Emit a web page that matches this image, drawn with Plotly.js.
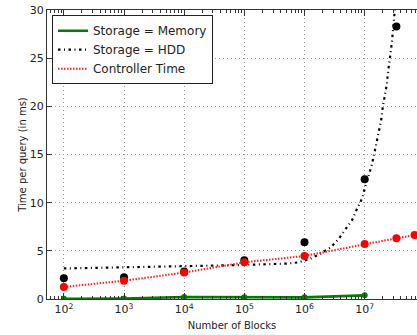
<!DOCTYPE html>
<html>
<head>
<meta charset="utf-8">
<script src="https://cdn.plot.ly/plotly-3.0.1.min.js"></script>
<style>html,body{margin:0;padding:0;background:#fff;}#chart{width:417px;height:335px;}</style>
</head>
<body>
<div id="chart"></div>
<script>
// Measured points (x = number of blocks)
const blocks = [1e2, 1e3, 1e4, 1e5, 1e6, 1e7];
const memoryTime = [0.03, 0.05, 0.2, 0.17, 0.17, 0.38];

const hddBlocks = [1e2, 1e3, 1e4, 1e5, 1e6, 1e7, 3.37e7];
const hddTime = [2.15, 2.25, 2.85, 4.02, 5.89, 12.44, 28.3];

const ctrlBlocks = [1e2, 1e3, 1e4, 1e5, 1e6, 1e7, 3.37e7, 6.76e7];
const ctrlTime = [1.25, 1.9, 2.74, 3.81, 4.47, 5.72, 6.31, 6.65];

// HDD model curve
const hddFitX = [1e2, 1e3, 1e4, 2.3e4, 5.8e4, 2.1e5, 5.2e5, 7.9e5, 1.26e6, 1.82e6, 2.75e6, 3.7e6, 4.8e6,
  6.2e6, 7.4e6, 9.1e6, 1.02e7, 1.17e7, 1.32e7, 1.45e7, 1.58e7, 1.74e7, 1.9e7, 2.0e7, 2.19e7, 2.34e7,
  2.45e7, 2.63e7, 2.75e7, 2.88e7, 3.16e7, 3.39e7];
const hddFitY = [3.17, 3.27, 3.37, 3.42, 3.5, 3.6, 3.68, 3.8, 4.19, 4.68, 5.37, 6.24, 7.17,
  8.21, 9.32, 10.47, 11.64, 12.79, 13.96, 15.15, 16.32, 17.49, 18.71, 19.93, 21.1, 22.32,
  23.57, 24.74, 25.96, 27.1, 29.55, 32.0];

const xTickVals = [1e2, 1e3, 1e4, 1e5, 1e6, 1e7];
const xTickText = ['10<sup>2</sup>', '10<sup>3</sup>', '10<sup>4</sup>', '10<sup>5</sup>', '10<sup>6</sup>', '10<sup>7</sup>'];
const yTickVals = [0, 5, 10, 15, 20, 25, 30];

const minorVals = [];
for (let e = 1; e <= 7; e++) for (let m = 2; m <= 9; m++) minorVals.push(m * Math.pow(10, e));

const traces = [
  {x: blocks, y: memoryTime, mode: 'lines', name: 'Storage = Memory',
   line: {color: '#008000', width: 2.6}},
  {x: hddFitX, y: hddFitY, mode: 'lines', name: 'Storage = HDD',
   line: {color: '#000000', width: 2.2, dash: '2.5px,3.5px,1px,3.5px'}},
  {x: ctrlBlocks, y: ctrlTime, mode: 'lines', name: 'Controller Time',
   line: {color: '#ff2020', width: 2, dash: '1.5px,1.5px'}},
  {x: blocks, y: memoryTime, mode: 'markers', showlegend: false,
   marker: {color: '#008000', size: 6}},
  {x: hddBlocks, y: hddTime, mode: 'markers', showlegend: false,
   marker: {color: '#000000', size: 8}},
  {x: ctrlBlocks, y: ctrlTime, mode: 'markers', showlegend: false,
   marker: {color: '#ff0000', size: 8}}
];

const layout = {
  width: 417, height: 335,
  margin: {l: 47, r: 0, t: 10, b: 36},
  paper_bgcolor: '#fff', plot_bgcolor: '#fff',
  font: {family: 'DejaVu Sans', size: 10, color: '#222'},
  showlegend: true,
  legend: {x: 0.0135, y: 0.982, xanchor: 'left', yanchor: 'top',
    bgcolor: '#fff', bordercolor: '#222', borderwidth: 1, itemwidth: 30,
    font: {family: 'DejaVu Sans', size: 12, color: '#222'}, tracegroupgap: 0},
  xaxis: {type: 'log', range: [1.72, 7.87], tickmode: 'array', tickvals: xTickVals, ticktext: xTickText,
    ticks: 'inside', ticklen: 6, tickcolor: '#333', showline: true, linecolor: '#333', linewidth: 1,
    mirror: 'allticks', showgrid: true, gridcolor: '#999', griddash: '1px,3px', zeroline: false,
    tickfont: {size: 11},
    minor: {tickmode: 'array', tickvals: minorVals, ticks: 'inside', ticklen: 3, tickcolor: '#333', showgrid: false},
    title: {text: 'Number of Blocks', font: {size: 10}, standoff: 6}},
  yaxis: {range: [0, 30], tickmode: 'array', tickvals: yTickVals,
    ticks: 'inside', ticklen: 5, tickcolor: '#333', showline: true, linecolor: '#333', linewidth: 1,
    mirror: false, showgrid: true, gridcolor: '#999', griddash: '1px,3px', zeroline: false,
    tickfont: {size: 11},
    title: {text: 'Time per query (in ms)', font: {size: 10}, standoff: 1}},
  hovermode: false
};

Plotly.newPlot('chart', traces, layout, {staticPlot: true, displayModeBar: false});
</script>
</body>
</html>
